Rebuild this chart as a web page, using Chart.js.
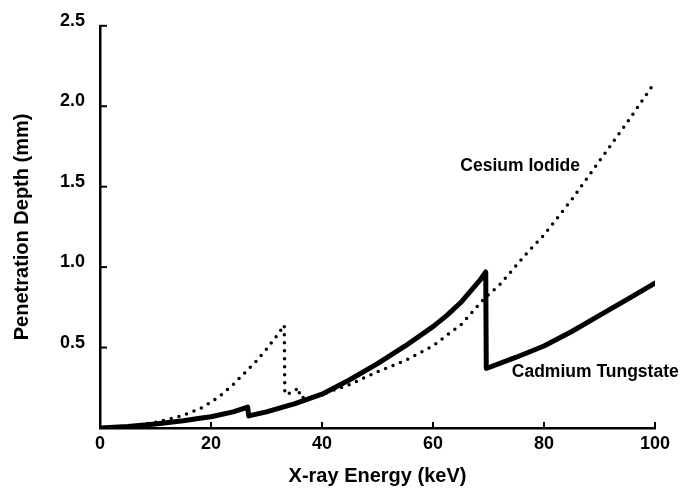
<!DOCTYPE html>
<html>
<head>
<meta charset="utf-8">
<script src="https://cdn.jsdelivr.net/npm/chart.js@4/dist/chart.umd.min.js"></script>
<style>
    html, body { margin: 0; padding: 0; background: #fff; }
    #wrap { width: 681px; height: 489px; }
</style>
</head>
<body>
<div id="wrap"><canvas id="depthChart" width="681" height="489"></canvas></div>
<script>
// Cesium iodide (dotted): K-edges of iodine (33.2 keV) and cesium (36 keV)
const csiEnergy = [0, 5, 10, 13, 15, 18, 20, 22, 24, 26, 28, 30, 32, 33.2, 33.3, 34.5, 35.8, 36, 38, 40, 45, 50, 55, 60, 63, 65, 69.4, 72, 75, 77, 80, 85, 90, 95, 100];
const csiDepth  = [0, 0.01, 0.035, 0.06, 0.08, 0.12, 0.16, 0.21, 0.27, 0.34, 0.41, 0.49, 0.58, 0.64, 0.21, 0.22, 0.25, 0.19, 0.19, 0.21, 0.27, 0.35, 0.42, 0.51, 0.59, 0.64, 0.81, 0.89, 1.01, 1.09, 1.20, 1.42, 1.66, 1.90, 2.15];

// Cadmium tungstate (solid): K-edges of cadmium (26.7 keV) and tungsten (69.5 keV)
const cdwoEnergy = [0, 5, 10, 15, 18, 20, 24, 26.6, 26.8, 30, 35, 40, 45, 50, 55, 60, 62.5, 65, 67, 68.5, 69.5, 69.6, 75, 80, 85, 90, 95, 100];
const cdwoDepth  = [0, 0.01, 0.025, 0.045, 0.06, 0.07, 0.10, 0.13, 0.075, 0.10, 0.15, 0.21, 0.30, 0.40, 0.51, 0.63, 0.70, 0.78, 0.86, 0.92, 0.97, 0.37, 0.44, 0.51, 0.60, 0.70, 0.80, 0.90];

const xTicks = [0, 20, 40, 60, 80, 100];
const yTicks = [0.5, 1.0, 1.5, 2.0, 2.5];

// curve labels, anchored in data coordinates
const curveLabels = [
    { text: 'Cesium Iodide', x: 75.7, y: 1.625, align: 'center' },
    { text: 'Cadmium Tungstate', x: 74.2, y: 0.35, align: 'left' }
];

const FONT = '"Liberation Sans", Arial, Helvetica, sans-serif';

function toPoints(xs, ys) {
    return xs.map((x, i) => ({ x: x, y: ys[i] }));
}

// short tick marks pointing into the plot, plus the curve labels
const inwardTicks = {
    id: 'inwardTicks',
    afterDatasetsDraw(chart) {
        const { ctx, scales: { x, y } } = chart;
        ctx.save();
        ctx.strokeStyle = '#000';
        ctx.lineWidth = 2;
        xTicks.forEach(v => {
            const px = x.getPixelForValue(v);
            ctx.beginPath();
            ctx.moveTo(px, y.bottom);
            ctx.lineTo(px, y.bottom - 6);
            ctx.stroke();
        });
        yTicks.forEach(v => {
            const py = y.getPixelForValue(v);
            ctx.beginPath();
            ctx.moveTo(x.left, py);
            ctx.lineTo(x.left + 7, py);
            ctx.stroke();
        });

        ctx.fillStyle = '#000';
        ctx.font = 'bold 17.5px ' + FONT;
        ctx.textBaseline = 'middle';
        curveLabels.forEach(l => {
            ctx.textAlign = l.align;
            ctx.fillText(l.text, x.getPixelForValue(l.x), y.getPixelForValue(l.y));
        });
        ctx.restore();
    }
};

new Chart(document.getElementById('depthChart'), {
    type: 'line',
    data: {
        datasets: [
            {
                label: 'Cesium Iodide',
                data: toPoints(csiEnergy, csiDepth),
                borderColor: '#000',
                borderWidth: 3.5,
                borderDash: [0, 8],
                borderCapStyle: 'round',
                pointRadius: 0,
                tension: 0,
                fill: false
            },
            {
                label: 'Cadmium Tungstate',
                data: toPoints(cdwoEnergy, cdwoDepth),
                borderColor: '#000',
                borderWidth: 5,
                borderJoinStyle: 'round',
                borderCapStyle: 'round',
                pointRadius: 0,
                tension: 0,
                fill: false
            }
        ]
    },
    options: {
        responsive: false,
        animation: false,
        events: [],
        layout: { padding: { left: 0, top: 25, right: 26, bottom: 0 } },
        plugins: {
            legend: { display: false },
            tooltip: { enabled: false }
        },
        scales: {
            x: {
                type: 'linear',
                min: 0,
                max: 100,
                afterBuildTicks: scale => { scale.ticks = xTicks.map(v => ({ value: v })); },
                afterFit: scale => { scale.height = 61; },
                grid: { display: false, drawTicks: false },
                border: { display: true, color: '#000', width: 2.5 },
                ticks: {
                    color: '#000',
                    padding: 5,
                    maxRotation: 0,
                    font: { family: FONT, size: 18, weight: 'bold' }
                },
                title: {
                    display: true,
                    text: 'X-ray Energy (keV)',
                    color: '#000',
                    padding: { top: 0, bottom: 1 },
                    font: { family: FONT, size: 20, weight: 'bold' }
                }
            },
            y: {
                type: 'linear',
                min: 0,
                max: 2.5,
                afterBuildTicks: scale => { scale.ticks = [0].concat(yTicks).map(v => ({ value: v })); },
                afterFit: scale => { scale.width = 100; },
                grid: { display: false, drawTicks: false },
                border: { display: true, color: '#000', width: 2.5 },
                ticks: {
                    color: '#000',
                    padding: 15,
                    labelOffset: -5,
                    callback: v => (v === 0 ? '' : v.toFixed(1)),
                    font: { family: FONT, size: 18, weight: 'bold' }
                },
                title: {
                    display: true,
                    text: 'Penetration Depth (mm)',
                    color: '#000',
                    padding: { top: 10, bottom: 0 },
                    font: { family: FONT, size: 20, weight: 'bold' }
                }
            }
        }
    },
    plugins: [inwardTicks]
});
</script>
</body>
</html>
